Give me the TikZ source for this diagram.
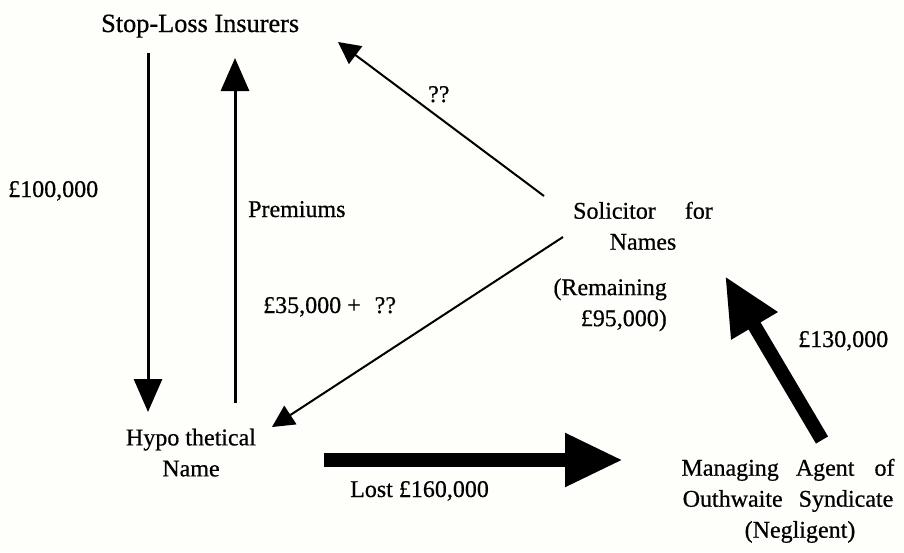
\documentclass[tikz,border=0pt]{standalone}
\usepackage{fontspec}
\setmainfont[FakeBold=0.6]{Liberation Serif}
\usetikzlibrary{arrows.meta}
\definecolor{paper}{RGB}{254,254,250}
\begin{document}
\begin{tikzpicture}[x=1pt,y=-1pt,
  lbl/.style={inner sep=0pt, font=\fontsize{24}{31}\selectfont},
  biglbl/.style={inner sep=0pt, font=\fontsize{26.3}{31}\selectfont},
  thinarrow/.style={line width=2pt, -{Triangle[length=22pt,width=22pt]}},
  medarrow/.style={line width=3pt, -{Triangle[length=33pt,width=28pt]}},
  fatarrow/.style={line width=14pt, -{Triangle[length=58pt,width=50pt]}}]
\fill[paper] (0,0) rectangle (904,552);
\useasboundingbox (0,0) rectangle (904,552);
% single-line labels
\node[biglbl,anchor=base west] (sli) at (101,32) {Stop-Loss Insurers};
\node[lbl,anchor=base west] (q1) at (428,102) {??};
\node[lbl,anchor=base west] (l100) at (8,197) {£100,000};
\node[lbl,anchor=base west] (prem) at (248,217) {Premiums};
\node[lbl,anchor=base west] (l35) at (263,313) {£35,000 +\hspace{14pt}??};
\node[lbl,anchor=base west] (l130) at (798,347) {£130,000};
\node[lbl,anchor=base west] (lost) at (350,497) {Lost £160,000};
% multi-line labels
\node[lbl,align=center,anchor=north] (sol) at (643,201.6) {Solicitor\hspace{29pt}for\\Names};
\node[lbl,align=right,anchor=north east] (rem) at (667,278.3) {(Remaining\\£95,000)};
\node[lbl,align=center,anchor=north] (hyp) at (191,428.5) {Hypo\hspace{6pt}thetical\\Name};
\node[lbl,align=center,anchor=north] (mag) at (788,458.6) {Managing\hspace{17pt}Agent\hspace{20pt}of\\Outhwaite\hspace{16pt}Syndicate\\\hspace*{24pt}(Negligent)};
% arrow end points
\coordinate (downS) at (148,53);
\coordinate (downE) at (148,412);
\coordinate (upS) at (235,403);
\coordinate (upE) at (235,58);
\coordinate (q1S) at (544,196);
\coordinate (q1E) at (338,42);
\coordinate (q2S) at (563,237);
\coordinate (q2E) at (272,427);
\coordinate (lostS) at (324,460);
\coordinate (lostE) at (623,460);
\coordinate (magS) at (822,440);
\coordinate (magE) at (725,276);
% connectors
\draw[medarrow] (downS) -- (downE);
\draw[medarrow] (upS) -- (upE);
\draw[thinarrow] (q1S) -- (q1E);
\draw[thinarrow] (q2S) -- (q2E);
\draw[fatarrow] (lostS) -- (lostE);
\draw[fatarrow] (magS) -- (magE);
\end{tikzpicture}
\end{document}
